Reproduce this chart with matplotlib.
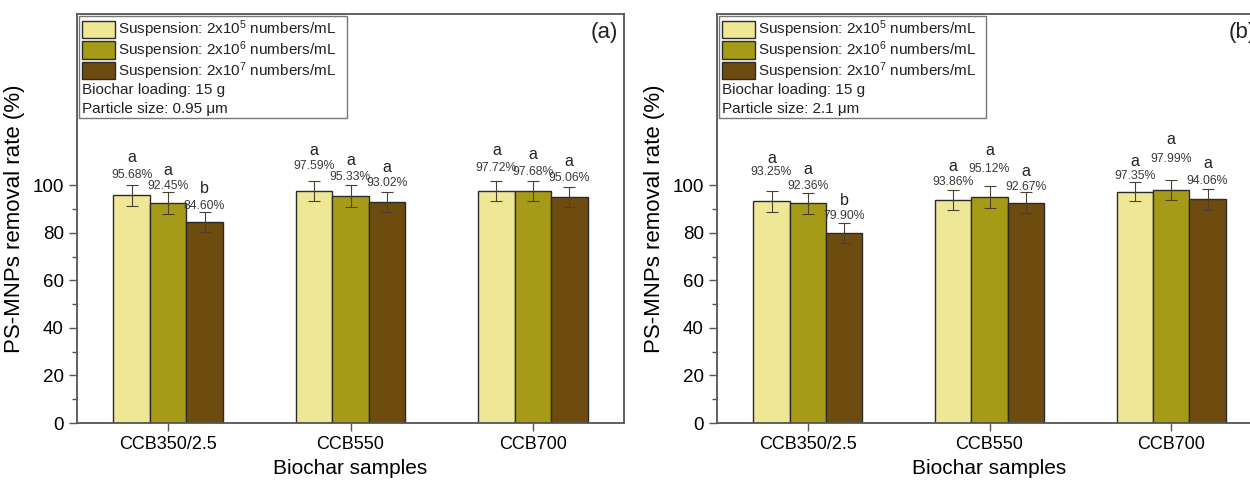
import matplotlib
matplotlib.use("Agg")
import matplotlib.pyplot as plt
import numpy as np
from matplotlib.patches import Rectangle

plt.rcParams['font.family'] = ['Liberation Sans', 'DejaVu Sans']
plt.rcParams['mathtext.fontset'] = 'custom'
plt.rcParams['mathtext.rm'] = 'Liberation Sans'
plt.rcParams['mathtext.it'] = 'Liberation Sans:italic'
plt.rcParams['text.color'] = '#222222'

# data
samples = ['CCB350/2.5', 'CCB550', 'CCB700']
series = ['Suspension: 2x10$^5$ numbers/mL',
          'Suspension: 2x10$^6$ numbers/mL',
          'Suspension: 2x10$^7$ numbers/mL']

# panel (a): particle size 0.95 um, rows = suspension, cols = sample
rate_a = [[95.68, 97.59, 97.72],
          [92.45, 95.33, 97.68],
          [84.60, 93.02, 95.06]]
err_a = [[4.3, 4.2, 4.2],
         [4.5, 4.6, 4.2],
         [4.1, 4.2, 4.2]]
sig_a = [['a', 'a', 'a'],
         ['a', 'a', 'a'],
         ['b', 'a', 'a']]

# panel (b): particle size 2.1 um
rate_b = [[93.25, 93.86, 97.35],
          [92.36, 95.12, 97.99],
          [79.90, 92.67, 94.06]]
err_b = [[4.5, 4.2, 4.2],
         [4.5, 4.7, 4.3],
         [4.0, 4.4, 4.4]]
sig_b = [['a', 'a', 'a'],
         ['a', 'a', 'a'],
         ['b', 'a', 'a']]

# label heights (data units)
pct_y_a = [[104.2, 108.0, 107.3],
           [99.6, 103.5, 105.6],
           [91.2, 101.0, 103.1]]
let_y_a = [[111.6, 114.7, 114.4],
           [106.3, 110.2, 113.0],
           [98.6, 107.4, 109.8]]
pct_y_b = [[105.6, 101.3, 104.0],
           [99.7, 107.0, 111.2],
           [87.0, 99.3, 101.7]]
let_y_b = [[111.2, 107.7, 109.8],
           [106.6, 114.4, 119.2],
           [93.7, 105.6, 109.1]]

notes_a = ['Biochar loading: 15 g', 'Particle size: 0.95 μm']
notes_b = ['Biochar loading: 15 g', 'Particle size: 2.1 μm']

colors = ['#EEE896', '#A59B16', '#6E4B0F']
frame_col = '#555555'


def draw_panel(ax, rate, err, sig, pct_y, let_y, notes, tag):
    x = np.arange(len(samples))
    w = 0.2
    for i in range(len(series)):
        xs = x + (i - 1) * w
        ax.bar(xs, rate[i], w, color=colors[i], edgecolor='#2b2b2b',
               linewidth=1.0, label=series[i], zorder=2)
        ax.errorbar(xs, rate[i], yerr=err[i], fmt='none', ecolor='#4a4030',
                    elinewidth=0.8, capsize=4, capthick=0.8, zorder=3)
        for j in range(len(samples)):
            ax.text(xs[j], pct_y[i][j], '%.2f%%' % rate[i][j], ha='center',
                    va='center', fontsize=8.8, color='#3a3a3a')
            ax.text(xs[j], let_y[i][j], sig[i][j], ha='center',
                    va='center', fontsize=11.5, color='#222222')

    ax.set_xlim(-0.5, 2.5)
    ax.set_ylim(0, 172)
    ax.set_xticks(x)
    ax.set_xticklabels(samples)
    ax.set_yticks([0, 20, 40, 60, 80, 100])
    ax.set_yticks(np.arange(10, 110, 20), minor=True)
    ax.tick_params(axis='y', which='major', labelsize=13.5, length=6,
                   width=1.0, color=frame_col, direction='out')
    ax.tick_params(axis='y', which='minor', length=3.5, width=1.0,
                   color=frame_col, direction='out')
    ax.tick_params(axis='x', length=6, width=1.0, color=frame_col,
                   direction='out', labelsize=13)
    for s in ax.spines.values():
        s.set_color(frame_col)
        s.set_linewidth(1.3)
    ax.set_xlabel('Biochar samples', fontsize=15, labelpad=4)
    ax.set_ylabel('PS-MNPs removal rate (%)', fontsize=16, labelpad=5)

    # legend block: frame, colour keys and notes in axes fractions
    ax.add_patch(Rectangle((0.004, 0.745), 0.49, 0.25,
                           transform=ax.transAxes, fill=False,
                           edgecolor='#777777', linewidth=1.0, zorder=4))
    rows = [0.963, 0.912, 0.861]
    for i in range(len(series)):
        ax.add_patch(Rectangle((0.01, rows[i] - 0.021), 0.059, 0.042,
                               transform=ax.transAxes, facecolor=colors[i],
                               edgecolor='#2b2b2b', linewidth=1.0, zorder=4))
        ax.text(0.075, rows[i], series[i], transform=ax.transAxes,
                fontsize=11, va='center', ha='left')
    ax.text(0.009, 0.814, notes[0], transform=ax.transAxes, fontsize=11,
            va='center', ha='left')
    ax.text(0.009, 0.768, notes[1], transform=ax.transAxes, fontsize=11,
            va='center', ha='left')
    ax.text(0.989, 0.955, tag, transform=ax.transAxes, fontsize=16,
            va='center', ha='right')


fig = plt.figure(figsize=(12.5, 4.8), dpi=100)
ax_a = fig.add_axes([77 / 1250, 57 / 480, 547 / 1250, 409 / 480])
ax_b = fig.add_axes([717 / 1250, 57 / 480, 545 / 1250, 409 / 480])

draw_panel(ax_a, rate_a, err_a, sig_a, pct_y_a, let_y_a, notes_a, '(a)')
draw_panel(ax_b, rate_b, err_b, sig_b, pct_y_b, let_y_b, notes_b, '(b)')

fig.savefig('out.png', dpi=100)
